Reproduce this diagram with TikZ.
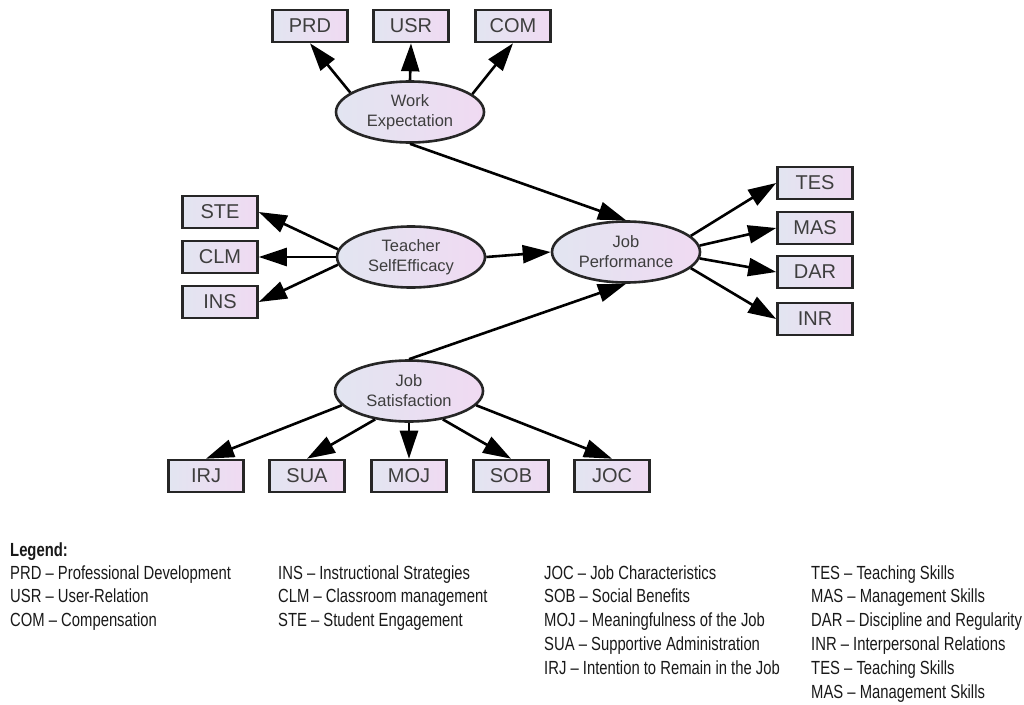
\documentclass[tikz,border=0pt]{standalone}
\usepackage{fontspec}
\setmainfont{Liberation Sans}
\newfontfamily\legendfont[FakeStretch=0.78]{Liberation Sans}
\usetikzlibrary{arrows.meta,shapes.geometric}
\definecolor{shadeleft}{RGB}{226,229,241}
\definecolor{shaderight}{RGB}{240,218,242}
\definecolor{labelgray}{RGB}{62,62,62}

\begin{document}
\begin{tikzpicture}[x=1pt,y=-1pt,
  obs/.style={draw=black!85,line width=2.6pt,left color=shadeleft,right color=shaderight,
    minimum width=75pt,minimum height=32pt,inner sep=0pt,
    font=\fontsize{20}{20}\selectfont,text=labelgray},
  lat/.style={ellipse,draw=black!85,line width=2.6pt,left color=shadeleft,right color=shaderight,
    minimum width=148pt,minimum height=61pt,inner sep=0pt,align=center,
    font=\fontsize{16.5}{20}\selectfont,text=labelgray},
  load/.style={-{Triangle[length=28pt,width=18pt]},line width=2.6pt},
  leg/.style={anchor=west,inner sep=0pt,text height=14pt,text depth=4pt,
    font=\legendfont\fontsize{19}{19}\selectfont,text=black!90}]
  \useasboundingbox (0,0) rectangle (1024,704);

  % latent variables
  \node[lat] (we)  at (410,112) {Work\\Expectation};
  \node[lat] (tse) at (411,257) {Teacher\\SelfEfficacy};
  \node[lat] (jp)  at (626,252) {Job\\Performance};
  \node[lat] (js)  at (409,391) {Job\\Satisfaction};

  % indicators
  \node[obs] (prd) at (310,26) {PRD};
  \node[obs] (usr) at (411,26) {USR};
  \node[obs] (com) at (513,26) {COM};
  \node[obs] (ste) at (220,212) {STE};
  \node[obs] (clm) at (220,257) {CLM};
  \node[obs] (ins) at (220,302) {INS};
  \node[obs] (tes) at (815,183) {TES};
  \node[obs] (mas) at (815,228) {MAS};
  \node[obs] (dar) at (815,272) {DAR};
  \node[obs] (inr) at (815,319) {INR};
  \node[obs] (irj) at (206,476) {IRJ};
  \node[obs] (sua) at (307,476) {SUA};
  \node[obs] (moj) at (409,476) {MOJ};
  \node[obs] (sob) at (511,476) {SOB};
  \node[obs] (joc) at (612,476) {JOC};

  % loadings
  \draw[load] (we.162) -- (prd.south);
  \draw[load] (we.north) -- (usr.south);
  \draw[load] (we.16) -- (com.south);
  \draw[load] (tse.174) -- (ste.east);
  \draw[load] (tse.west) -- (clm.east);
  \draw[load] (tse.186) -- (ins.east);
  \draw[load] (jp.14) -- (tes.west);
  \draw[load] (jp.5) -- (mas.west);
  \draw[load] (jp.-5) -- (dar.west);
  \draw[load] (jp.-14) -- (inr.west);
  \draw[load] (js.192) -- (irj.north);
  \draw[load] (js.220) -- (sua.north);
  \draw[load] (js.south) -- (moj.north);
  \draw[load] (js.-40) -- (sob.north);
  \draw[load] (js.-12) -- (joc.north);

  % structural paths
  \draw[load] (we.south) -- (jp.north);
  \draw[load] (tse.east) -- (jp.west);
  \draw[load] (js.north) -- (jp.south);

  % legend
  \node[leg,font=\legendfont\bfseries\fontsize{19}{19}\selectfont] (legtitle) at (10,551) {Legend:};
  \foreach \t [count=\i] in {PRD – Professional Development,USR – User-Relation,COM – Compensation}
    \node[leg] (lega-\i) at (10,{574+23.8*(\i-1)}) {\t};
  \foreach \t [count=\i] in {INS – Instructional Strategies,CLM – Classroom management,STE – Student Engagement}
    \node[leg] (legb-\i) at (278,{574+23.8*(\i-1)}) {\t};
  \foreach \t [count=\i] in {JOC – Job Characteristics,SOB – Social Benefits,MOJ – Meaningfulness of the Job,
      SUA – Supportive Administration,IRJ – Intention to Remain in the Job}
    \node[leg] (legc-\i) at (544,{574+23.8*(\i-1)}) {\t};
  \foreach \t [count=\i] in {TES – Teaching Skills,MAS – Management Skills,DAR – Discipline and Regularity,
      INR – Interpersonal Relations,TES – Teaching Skills,MAS – Management Skills}
    \node[leg] (legd-\i) at (811,{574+23.8*(\i-1)}) {\t};
\end{tikzpicture}
\end{document}
